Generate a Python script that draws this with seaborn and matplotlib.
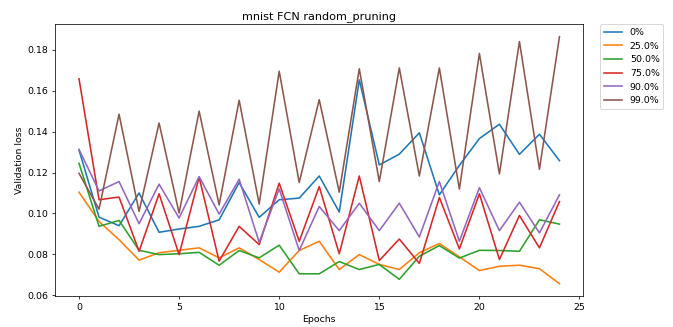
import numpy as np
import pandas as pd
import matplotlib
matplotlib.use("Agg")
import matplotlib.pyplot as plt
import seaborn as sns

# --------------------------------------------------------------
# Data (validation loss per epoch)
# --------------------------------------------------------------
epochs = list(range(25))
labels = ['0%', '25.0%', '50.0%', '75.0%', '90.0%', '99.0%']

loss_0 = [0.1310, 0.0982, 0.0940, 0.1100, 0.0908, 0.0924, 0.0937, 0.0969, 0.1151,
          0.0981, 0.1067, 0.1075, 0.1183, 0.1007, 0.1653, 0.1237, 0.1290, 0.1394,
          0.1091, 0.1235, 0.1366, 0.1436, 0.1289, 0.1387, 0.1258]
loss_25 = [0.1104, 0.0961, 0.0872, 0.0772, 0.0808, 0.0820, 0.0832, 0.0783, 0.0832,
           0.0775, 0.0713, 0.0819, 0.0864, 0.0726, 0.0799, 0.0751, 0.0726, 0.0808,
           0.0853, 0.0788, 0.0721, 0.0742, 0.0747, 0.0730, 0.0657]
loss_50 = [0.1245, 0.0937, 0.0966, 0.0820, 0.0799, 0.0803, 0.0810, 0.0747, 0.0819,
           0.0783, 0.0845, 0.0705, 0.0705, 0.0765, 0.0726, 0.0751, 0.0678, 0.0791,
           0.0843, 0.0782, 0.0820, 0.0819, 0.0815, 0.0969, 0.0948]
loss_75 = [0.1658, 0.1067, 0.1080, 0.0815, 0.1096, 0.0799, 0.1177, 0.0767, 0.0937,
           0.0848, 0.1148, 0.0864, 0.1131, 0.0803, 0.1183, 0.0770, 0.0875, 0.0756,
           0.1078, 0.0827, 0.1096, 0.0775, 0.0990, 0.0832, 0.1058]
loss_90 = [0.1313, 0.1110, 0.1156, 0.0950, 0.1143, 0.0978, 0.1180, 0.0997, 0.1167,
           0.0859, 0.1120, 0.0819, 0.1034, 0.0916, 0.1050, 0.0916, 0.1050, 0.0885,
           0.1156, 0.0864, 0.1126, 0.0916, 0.1055, 0.0905, 0.1091]
loss_99 = [0.1196, 0.1021, 0.1485, 0.1010, 0.1442, 0.1002, 0.1500, 0.1042, 0.1553,
           0.1046, 0.1695, 0.1151, 0.1556, 0.1104, 0.1707, 0.1156, 0.1711, 0.1183,
           0.1711, 0.1119, 0.1782, 0.1193, 0.1840, 0.1216, 0.1864]

series = [loss_0, loss_25, loss_50, loss_75, loss_90, loss_99]

df = pd.DataFrame({
    'Epochs': epochs * len(labels),
    'Validation loss': sum(series, []),
    'pruning': [lab for lab in labels for _ in epochs],
})

# --------------------------------------------------------------
# Plot
# --------------------------------------------------------------
fig, ax = plt.subplots(figsize=(10, 327 / 67.3), dpi=67.3)
fig.subplots_adjust(left=0.0817, right=0.867, top=0.9257, bottom=0.0948)

sns.lineplot(data=df, x='Epochs', y='Validation loss', hue='pruning',
             hue_order=labels, palette='tab10', linewidth=1.7, ax=ax)

ax.set_title('mnist FCN random_pruning')
ax.set_xlabel('Epochs')
ax.set_ylabel('Validation loss')
ax.set_xticks([0, 5, 10, 15, 20, 25])

handles, labs = ax.get_legend_handles_labels()
ax.legend(handles, labs, loc='upper left', bbox_to_anchor=(1.031, 1),
          borderaxespad=0)

plt.savefig('out.png', dpi=67.3)
